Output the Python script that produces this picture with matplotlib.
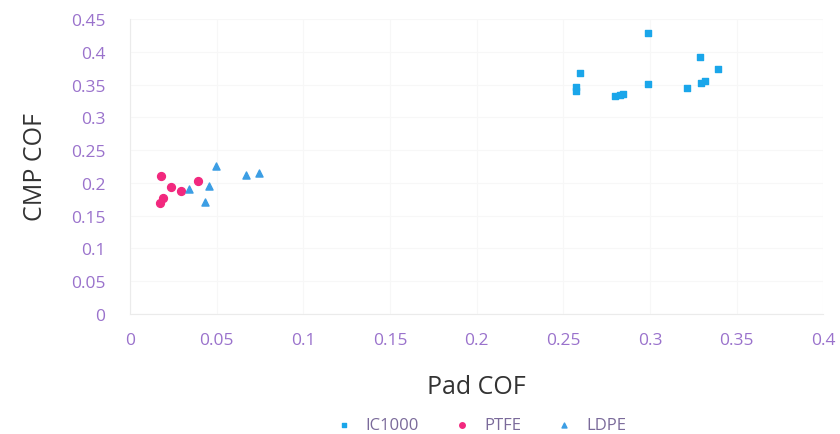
import matplotlib
matplotlib.use("Agg")
import matplotlib.pyplot as plt

# Pad coefficient of friction vs CMP coefficient of friction, by pad material
ic1000_pad = [0.2574, 0.2574, 0.2597, 0.2800, 0.2830, 0.2842, 0.2990, 0.2990,
              0.3213, 0.3290, 0.3296, 0.3316, 0.3394]
ic1000_cmp = [0.3460, 0.3400, 0.3676, 0.3325, 0.3340, 0.3356, 0.3510, 0.4286,
              0.3450, 0.3920, 0.3520, 0.3550, 0.3737]

ptfe_pad = [0.0179, 0.0237, 0.0294, 0.0394, 0.0192, 0.0173]
ptfe_cmp = [0.2100, 0.1940, 0.1870, 0.2024, 0.1765, 0.1700]

ldpe_pad = [0.0496, 0.0341, 0.0456, 0.0431, 0.0668, 0.0741]
ldpe_cmp = [0.2253, 0.1907, 0.1957, 0.1704, 0.2120, 0.2146]

x_ticks = [0, 0.05, 0.1, 0.15, 0.2, 0.25, 0.3, 0.35, 0.4]
y_ticks = [0, 0.05, 0.1, 0.15, 0.2, 0.25, 0.3, 0.35, 0.4, 0.45]

plt.rcParams['font.family'] = ['Open Sans', 'DejaVu Sans']

fig = plt.figure(figsize=(8.4, 4.35), dpi=100)
ax = fig.add_axes([0.155, 0.276, 0.825, 0.678])

ax.scatter(ic1000_pad, ic1000_cmp, marker='s', s=24, color='#1aa6ea', label='IC1000', zorder=3)
ax.scatter(ptfe_pad, ptfe_cmp, marker='o', s=32, color='#f2287e', label='PTFE', zorder=3)
ax.scatter(ldpe_pad, ldpe_cmp, marker='^', s=26, color='#3c9ee4', label='LDPE', zorder=3)

ax.set_xlim(0, 0.4)
ax.set_ylim(0, 0.45)
ax.set_xticks(x_ticks)
ax.set_yticks(y_ticks)
ax.set_xticklabels([f"{v:g}" for v in x_ticks])
ax.set_yticklabels([f"{v:g}" for v in y_ticks])
ax.tick_params(axis='both', length=0, labelsize=12.5, colors='#9a72cc')
ax.tick_params(axis='x', pad=13)
ax.tick_params(axis='y', pad=18)

ax.grid(True, color='#f7f7f7', linewidth=0.8)
ax.set_axisbelow(True)
for side in ['top', 'right']:
    ax.spines[side].set_visible(False)
for side in ['left', 'bottom']:
    ax.spines[side].set_color('#ebebeb')
    ax.spines[side].set_linewidth(0.8)

ax.set_xlabel('Pad COF', fontsize=18, color='#333333', labelpad=19)
ax.set_ylabel('CMP COF', fontsize=18, color='#333333', labelpad=16)

ax.legend(loc='upper center', bbox_to_anchor=(0.5, -0.3), ncol=3, frameon=False,
          fontsize=12, labelcolor='#7a6a9a', handletextpad=0.3, columnspacing=1.6,
          markerscale=0.7)

fig.savefig('out.png', dpi=100, facecolor='white')
